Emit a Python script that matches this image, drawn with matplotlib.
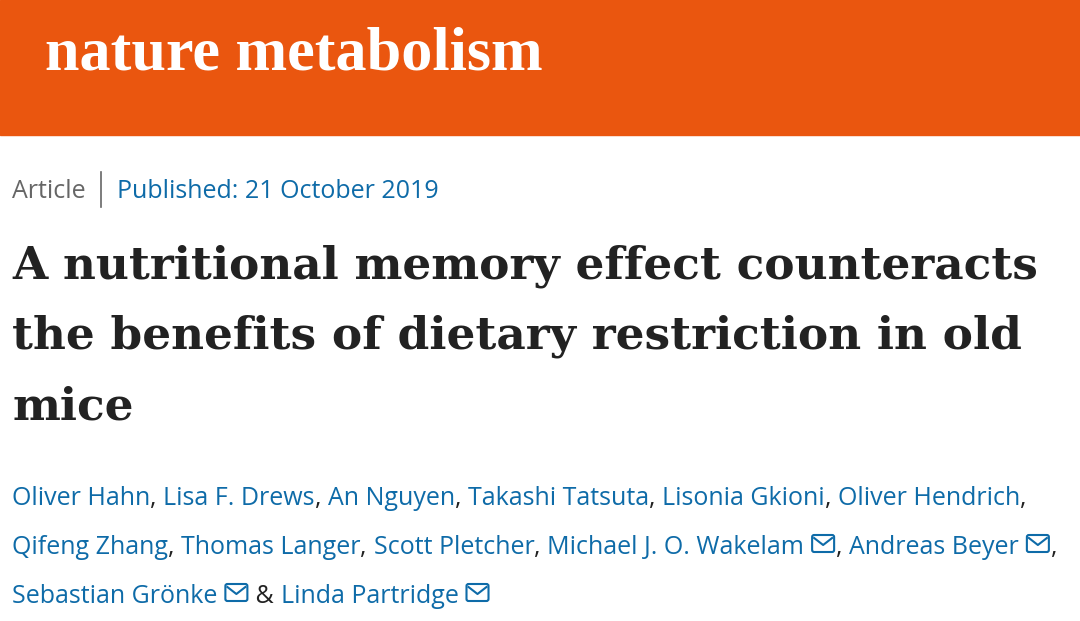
import matplotlib
matplotlib.use("Agg")
import matplotlib.pyplot as plt
from matplotlib.patches import Rectangle, FancyBboxPatch

W, H = 1080, 621

journal = "nature metabolism"
article_type = "Article"
published = "Published: 21 October 2019"
title_lines = ["A nutritional memory effect counteracts",
               "the benefits of dietary restriction in old",
               "mice"]
# each author line: list of (name, has_mail, separator)
author_lines = [
    [("Oliver Hahn", False, ", "), ("Lisa F. Drews", False, ", "), ("An Nguyen", False, ", "),
     ("Takashi Tatsuta", False, ", "), ("Lisonia Gkioni", False, ", "), ("Oliver Hendrich", False, ",")],
    [("Qifeng Zhang", False, ", "), ("Thomas Langer", False, ", "), ("Scott Pletcher", False, ", "),
     ("Michael J. O. Wakelam", True, ", "), ("Andreas Beyer", True, ",")],
    [("Sebastian Grönke", True, " & "), ("Linda Partridge", True, "")],
]

ORANGE = "#EA560F"
BLUE = "#0E6BA8"
DARK = "#222222"
GREY = "#666666"

fig = plt.figure(figsize=(W / 100, H / 100), dpi=100)
fig.patch.set_facecolor("white")
ax = fig.add_axes([0, 0, 1, 1])
ax.set_xlim(0, W)
ax.set_ylim(H, 0)
ax.axis("off")
renderer = fig.canvas.get_renderer()


def width_of(t):
    return t.get_window_extent(renderer=renderer).width


def put(x, y, s, **kw):
    t = ax.text(x, y, s, va="baseline", ha="left", **kw)
    return x + width_of(t)


def fit(x, y, s, target_w, size, **kw):
    # shrink/grow font so the text spans target_w pixels
    t = ax.text(x, y, s, va="baseline", ha="left", fontsize=size, **kw)
    t.set_fontsize(size * target_w / width_of(t))
    return t


def envelope(x, y):
    # small mail icon, y = text baseline
    w, h = 22, 17
    top = y - 19
    ax.add_patch(FancyBboxPatch((x, top), w, h, boxstyle="round,pad=0,rounding_size=2",
                                fill=False, ec=BLUE, lw=1.5))
    ax.plot([x + 2, x + w / 2, x + w - 2], [top + 3, top + 10, top + 3], color=BLUE, lw=1.5)
    return x + w


# header banner
ax.add_patch(Rectangle((0, 0), W, 135, color=ORANGE, zorder=0))
fit(45, 70, journal, 498, 42, color="white", fontweight="bold", family="Liberation Serif")

# article line
fam = ["Open Sans", "DejaVu Sans"]
FS = 18
x = put(12, 198, article_type, color=GREY, fontsize=FS, family=fam)
ax.plot([x + 15, x + 15], [172, 207], color=GREY, lw=1.2)
put(x + 31, 198, published, color=BLUE, fontsize=FS, family=fam)

# title
t0 = fit(12, 278, title_lines[0], 1028, 36, color=DARK, fontweight="bold", family="DejaVu Serif")
for i, line in enumerate(title_lines[1:], start=1):
    ax.text(12, 278 + i * 71, line, color=DARK, fontsize=t0.get_fontsize(), fontweight="bold",
            family="DejaVu Serif", va="baseline", ha="left")

# authors
for i, parts in enumerate(author_lines):
    y = 505 + i * 49
    x = 12
    for name, mail, sep in parts:
        x = put(x, y, name, color=BLUE, fontsize=FS, family=fam)
        if mail:
            x = envelope(x + 8, y) + 2
        if sep:
            x = put(x, y, sep, color=DARK, fontsize=FS, family=fam)

fig.savefig("out.png", dpi=100)
